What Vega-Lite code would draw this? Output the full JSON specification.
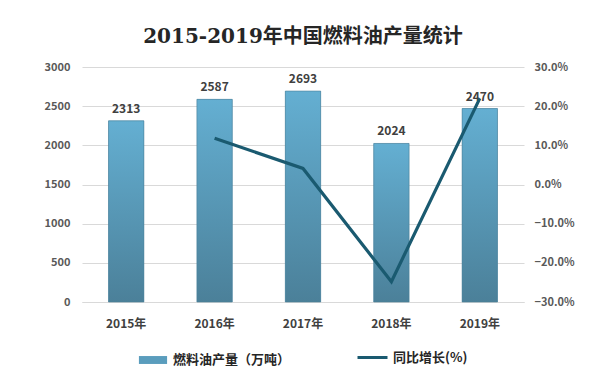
{
  "$schema": "https://vega.github.io/schema/vega-lite/v6.json",
  "width": 442,
  "height": 235,
  "autosize": {"type": "none"},
  "padding": {"left": 82, "top": 67, "right": 69, "bottom": 75},
  "background": "white",
  "title": {
    "text": "2015-2019年中国燃料油产量统计",
    "font": "DejaVu Serif, Noto Sans CJK SC",
    "fontSize": 20,
    "fontWeight": "bold",
    "color": "#262626",
    "anchor": "middle",
    "offset": 14
  },
  "config": {
    "view": {"stroke": null},
    "font": "Noto Sans CJK SC",
    "axis": {"labelFont": "Noto Sans CJK SC"}
  },
  "data": {
    "values": [
      {"year": "2015年", "prod": 2313, "yoy": null, "s1": "燃料油产量（万吨）", "s2": "同比增长(%)"},
      {"year": "2016年", "prod": 2587, "yoy": 0.118, "s1": "燃料油产量（万吨）", "s2": "同比增长(%)"},
      {"year": "2017年", "prod": 2693, "yoy": 0.041, "s1": "燃料油产量（万吨）", "s2": "同比增长(%)"},
      {"year": "2018年", "prod": 2024, "yoy": -0.248, "s1": "燃料油产量（万吨）", "s2": "同比增长(%)"},
      {"year": "2019年", "prod": 2470, "yoy": 0.22, "s1": "燃料油产量（万吨）", "s2": "同比增长(%)"}
    ]
  },
  "encoding": {
    "x": {
      "field": "year",
      "type": "nominal",
      "sort": null,
      "scale": {"paddingInner": 0.6, "paddingOuter": 0.3},
      "axis": {
        "title": null,
        "labelAngle": 0,
        "ticks": false,
        "domain": true,
        "domainColor": "#d9d9d9",
        "labelFontSize": 12,
        "labelFontWeight": "bold",
        "labelColor": "#404040",
        "labelPadding": 16
      }
    }
  },
  "layer": [
    {
      "mark": {"type": "bar"},
      "encoding": {
        "y": {
          "field": "prod",
          "type": "quantitative",
          "scale": {"domain": [0, 3000]},
          "axis": {
            "title": null,
            "values": [0, 500, 1000, 1500, 2000, 2500, 3000],
            "format": "d",
            "grid": true,
            "gridColor": "#d9d9d9",
            "domain": false,
            "ticks": false,
            "labelPadding": 12,
            "labelFontSize": 11,
            "labelFontWeight": "bold",
            "labelColor": "#595959"
          }
        },
        "fill": {
          "field": "s1",
          "type": "nominal",
          "scale": {"range": ["#5a9dbd"]},
          "legend": {
            "title": null,
            "orient": "none",
            "legendX": 61,
            "legendY": 283,
            "symbolType": "M-1.6,-0.45H1.6V0.45H-1.6Z",
            "symbolSize": 310,
            "labelOffset": 10,
            "labelFontSize": 13,
            "labelFontWeight": "bold",
            "labelColor": "#262626"
          }
        }
      }
    },
    {
      "mark": {
        "type": "bar",
        "stroke": "#4a7f98",
        "strokeWidth": 0.6,
        "fill": {
          "gradient": "linear",
          "x1": 0, "y1": 0, "x2": 0, "y2": 1,
          "stops": [
            {"offset": 0, "color": "#64afd2"},
            {"offset": 1, "color": "#4b8099"}
          ]
        }
      },
      "encoding": {
        "y": {"field": "prod", "type": "quantitative", "scale": {"domain": [0, 3000]}, "axis": null}
      }
    },
    {
      "mark": {"type": "text", "dy": -12, "fontSize": 12, "fontWeight": "bold", "color": "#404040"},
      "encoding": {
        "y": {"field": "prod", "type": "quantitative", "scale": {"domain": [0, 3000]}, "axis": null},
        "text": {"field": "prod", "type": "quantitative"}
      }
    },
    {
      "mark": {"type": "line", "strokeWidth": 3.2},
      "encoding": {
        "y": {
          "field": "yoy",
          "type": "quantitative",
          "scale": {"domain": [-0.3, 0.3]},
          "axis": {
            "title": null,
            "orient": "right",
            "values": [-0.3, -0.2, -0.1, 0, 0.1, 0.2, 0.3],
            "format": ".1%",
            "grid": false,
            "domain": false,
            "ticks": false,
            "labelPadding": 10,
            "labelFontSize": 11,
            "labelFontWeight": "bold",
            "labelColor": "#595959"
          }
        },
        "stroke": {
          "field": "s2",
          "type": "nominal",
          "scale": {"range": ["#1a5a70"]},
          "legend": {
            "title": null,
            "orient": "none",
            "legendX": 274,
            "legendY": 274,
            "symbolType": "stroke",
            "symbolStrokeWidth": 3,
            "symbolSize": 900,
            "labelOffset": 4,
            "labelFontSize": 13,
            "labelFontWeight": "bold",
            "labelColor": "#262626"
          }
        }
      }
    }
  ],
  "resolve": {"scale": {"y": "independent", "fill": "independent", "stroke": "independent"}}
}
